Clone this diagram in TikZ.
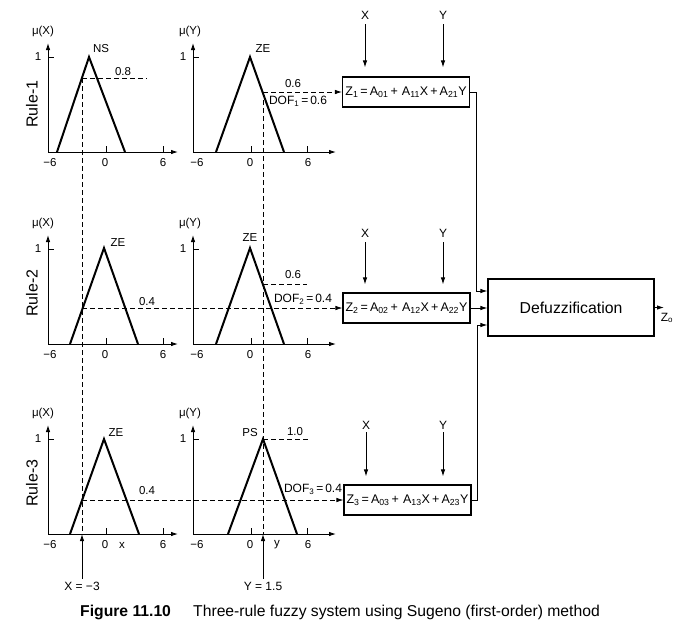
\documentclass[tikz,border=0pt]{standalone}
\usepackage{fontspec}
\setmainfont{Liberation Sans}
\usetikzlibrary{arrows.meta}
\begin{document}
\begin{tikzpicture}[x=1pt,y=-1pt,
  tip/.tip={Latex[length=7pt,width=4.5pt]},
  tri/.style={line width=2pt, line join=miter},
  axis/.style={line width=0.9pt, -tip},
  tk/.style={line width=0.8pt},
  dsh/.style={line width=0.8pt, dash pattern=on 5pt off 3pt},
  dsharr/.style={dsh, -tip},
  con/.style={line width=0.9pt, -tip},
  lbl/.style={font=\fontsize{11.5}{13}\selectfont, inner sep=0pt},
  mid/.style={font=\fontsize{12}{14}\selectfont, inner sep=0pt},
  eq/.style={draw, line width=1.1pt, minimum width=127pt, minimum height=30pt, inner sep=0pt, font=\fontsize{12.5}{14}\selectfont},
  rulelbl/.style={rotate=90, font=\fontsize{16}{18}\selectfont, inner sep=0pt},
  captn/.style={font=\fontsize{15.7}{18}\selectfont, inner sep=0pt, anchor=west},
]
\useasboundingbox (0,0) rectangle (692,632);

% ---------- common panel frames ----------
\foreach \r/\dy in {1/0,2/192,3/382}{
  \draw[axis] (48,{152+\dy}) -- (48,{43+\dy});
  \draw[axis] (48,{152+\dy}) -- (178,{152+\dy});
  \draw[tk] (48,{57+\dy}) -- (54,{57+\dy});
  \draw[tk] (106,{152+\dy}) -- (106,{146+\dy});
  \draw[tk] (163,{152+\dy}) -- (163,{146+\dy});
  \draw[axis] (193,{152+\dy}) -- (193,{43+\dy});
  \draw[axis] (193,{152+\dy}) -- (336,{152+\dy});
  \draw[tk] (193,{57+\dy}) -- (199,{57+\dy});
  \draw[tk] (251,{152+\dy}) -- (251,{146+\dy});
  \draw[tk] (307,{152+\dy}) -- (307,{146+\dy});
  \node[lbl] (mux\r) at (43,{32+\dy}) {μ(X)};
  \node[lbl] (muy\r) at (190,{32+\dy}) {μ(Y)};
  \node[lbl] (onex\r) at (38,{57+\dy}) {1};
  \node[lbl] (oney\r) at (183,{57+\dy}) {1};
  \node[lbl] (mxa\r) at (50,{163+\dy}) {−6};
  \node[lbl] (mxb\r) at (105,{163+\dy}) {0};
  \node[lbl] (mxc\r) at (163,{163+\dy}) {6};
  \node[lbl] (mya\r) at (197,{163+\dy}) {−6};
  \node[lbl] (myb\r) at (250,{163+\dy}) {0};
  \node[lbl] (myc\r) at (308,{163+\dy}) {6};
}
\node[rulelbl] (r1) at (32,104) {Rule-1};
\node[rulelbl] (r2) at (32,293) {Rule-2};
\node[rulelbl] (r3) at (32,483) {Rule-3};

% ---------- membership functions ----------
\draw[tri] (57,152) -- (89,57) -- (125,152);
\draw[tri] (216,152) -- (250,57) -- (284,152);
\draw[tri] (70,344) -- (104,248) -- (138,344);
\draw[tri] (216,344) -- (250,248) -- (284,344);
\draw[tri] (70,534) -- (104,439) -- (139,534);
\draw[tri] (228,534) -- (263,439) -- (297,534);

\node[lbl] (ns1) at (101,49) {NS};
\node[lbl] (ze1) at (263,49) {ZE};
\node[lbl] (ze2a) at (118,243) {ZE};
\node[lbl] (ze2b) at (250,238) {ZE};
\node[lbl] (ze3a) at (116,433) {ZE};
\node[lbl] (ps3) at (250,433) {PS};
\node[lbl] (lx) at (122,545) {x};
\node[lbl] (ly) at (277,545) {y};

% ---------- rule boxes ----------
\node[eq] (z1) at (406,92) {Z\textsubscript{1}\,=\,A\textsubscript{01}\,+\,\,A\textsubscript{11}X\,+\,A\textsubscript{21}Y};
\node[eq] (z2) at (406.5,308) {Z\textsubscript{2}\,=\,A\textsubscript{02}\,+\,\,A\textsubscript{12}X\,+\,A\textsubscript{22}Y};
\node[eq] (z3) at (407.5,500) {Z\textsubscript{3}\,=\,A\textsubscript{03}\,+\,\,A\textsubscript{13}X\,+\,A\textsubscript{23}Y};

\node[draw, line width=1.1pt, minimum width=166pt, minimum height=57pt, inner sep=0pt,
      font=\fontsize{15.8}{18}\selectfont] (dz) at (571,307.5) {Defuzzification};

% ---------- crisp inputs ----------
\coordinate (xa) at (82,78);
\coordinate (xb) at (82,534);
\coordinate (ya) at (263,92);
\coordinate (yb) at (263,534);
\draw[dsh] (xa) -- (xb);
\draw[dsh] (ya) -- (yb);
\node[mid] (xv) at (82,586) {X = −3};
\node[mid] (yv) at (263,586) {Y = 1.5};
\draw[con, shorten <=3pt] (xv) -- (xb);
\draw[con, shorten <=3pt] (yv) -- (yb);

% ---------- rule 1 ----------
\coordinate (h08) at (147,78);
\draw[dsh] (xa) -- (h08);
\node[lbl] (l08) at (123,72) {0.8};
\draw[dsharr] (ya) -- (z1.west |- ya);
\node[lbl] (l06a) at (293,84) {0.6};
\node[mid] (dof1) at (298,101) {DOF\textsubscript{1}\,=\,0.6};

% ---------- rule 2 ----------
\coordinate (x2) at (82,308);
\draw[dsharr] (x2) -- (z2.west |- x2);
\node[lbl] (l04b) at (147,302) {0.4};
\coordinate (y2) at (263,284);
\coordinate (h06) at (307,284);
\draw[dsh] (y2) -- (h06);
\node[lbl] (l06b) at (293,275) {0.6};
\node[mid] (dof2) at (303,299) {DOF\textsubscript{2}\,=\,0.4};

% ---------- rule 3 ----------
\coordinate (x3) at (82,500);
\draw[dsharr] (x3) -- (z3.west |- x3);
\node[lbl] (l04c) at (147,491) {0.4};
\coordinate (y3) at (263,439);
\coordinate (h10) at (308,439);
\draw[dsh] (y3) -- (h10);
\node[lbl] (l10) at (295,432) {1.0};
\node[mid] (dof3) at (313,489) {DOF\textsubscript{3}\,=\,0.4};

% ---------- X / Y inputs to the boxes ----------
\node[mid] (bx1) at (365,15) {X};
\node[mid] (by1) at (443,15) {Y};
\node[mid] (bx2) at (365,233) {X};
\node[mid] (by2) at (443,233) {Y};
\node[mid] (bx3) at (366,425) {X};
\node[mid] (by3) at (443,425) {Y};
\draw[con, shorten <=5pt, shorten >=9pt] (bx1) -- (bx1 |- z1.north);
\draw[con, shorten <=5pt, shorten >=9pt] (by1) -- (by1 |- z1.north);
\draw[con, shorten <=5pt, shorten >=8pt] (bx2) -- (bx2 |- z2.north);
\draw[con, shorten <=5pt, shorten >=8pt] (by2) -- (by2 |- z2.north);
\draw[con, shorten <=3pt, shorten >=8pt] (bx3) -- (bx3 |- z3.north);
\draw[con, shorten <=3pt, shorten >=8pt] (by3) -- (by3 |- z3.north);

% ---------- to defuzzification ----------
\coordinate (c1a) at (476,92);
\coordinate (c1b) at (476,291);
\coordinate (c3a) at (477,500);
\coordinate (c3b) at (477,325);
\draw[con] (z1.east) -- (c1a) -- (c1b) -- (dz.west |- c1b);
\draw[con] (z2.east) -- (dz.west |- z2.east);
\draw[con] (z3.east) -- (c3a) -- (c3b) -- (dz.west |- c3b);
\coordinate (zo) at (664,307.5);
\draw[con] (dz.east) -- (zo);
\node[mid] (zol) at (667,318) {Z\textsubscript{o}};

% ---------- caption ----------
\node[captn, font=\fontsize{15.7}{18}\selectfont\bfseries] (fig) at (80,612) {Figure 11.10};
\node[captn] (captxt) at (193,612) {Three-rule fuzzy system using Sugeno (first-order) method};
\end{tikzpicture}
\end{document}
